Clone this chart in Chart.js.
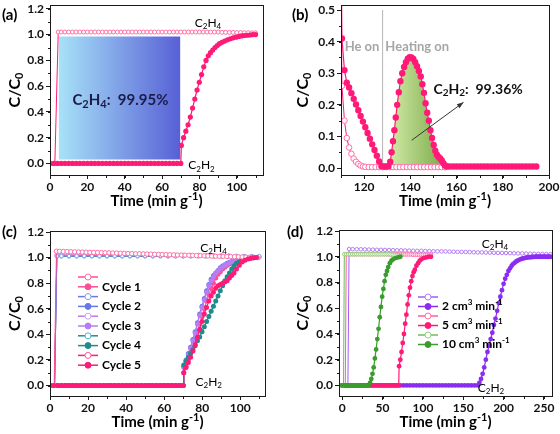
<!DOCTYPE html>
<html>
<head>
<meta charset="utf-8">
<script src="https://cdn.jsdelivr.net/npm/chart.js@4.4.1/dist/chart.umd.min.js"></script>
<style>
  body { margin: 0; background: #fff; }
  .panel { position: absolute; width: 280px; height: 217px; }
</style>
</head>
<body>
<div class="panel" style="left:0;top:0"><canvas id="panelA" width="280" height="217"></canvas></div>
<div class="panel" style="left:280px;top:0"><canvas id="panelB" width="280" height="217"></canvas></div>
<div class="panel" style="left:0;top:217px"><canvas id="panelC" width="280" height="217"></canvas></div>
<div class="panel" style="left:280px;top:217px"><canvas id="panelD" width="280" height="217"></canvas></div>
<script>
/* Breakthrough curves, desorption and cycling: four panels */

/* ---- tick labels ---- */
const aXTicks = [0, 20, 40, 60, 80, 100];
const bXTicks = [120, 140, 160, 180, 200];
const cXTicks = [0, 20, 40, 60, 80, 100];
const dXTicks = [0, 50, 100, 150, 200, 250];
const yTicks = [0, 0.2, 0.4, 0.6, 0.8, 1.0, 1.2];
const bYTicks = [0, 0.1, 0.2, 0.3, 0.4, 0.5];

/* ---- shared flat (zero) part of the C2H2 outlet, 0-70 min/g ---- */
const flatTime = [0, 2, 4, 6, 8, 10, 12, 14, 16, 18, 20, 22, 24, 26, 28, 30, 32, 34,
  36, 38, 40, 42, 44, 46, 48, 50, 52, 54, 56, 58, 60, 62, 64, 66, 68, 70];
const flatZero = [0, 0, 0, 0, 0, 0, 0, 0, 0, 0, 0, 0, 0, 0, 0, 0, 0, 0,
  0, 0, 0, 0, 0, 0, 0, 0, 0, 0, 0, 0, 0, 0, 0, 0, 0, 0];

/* ---- (a) ---- */
const aH4Time = [0, 2.6, 4.4, 6, 8, 10, 12, 14, 16, 18, 20, 22, 24, 26, 28, 30, 32, 34, 36, 38,
  40, 42, 44, 46, 48, 50, 52, 54, 56, 58, 60, 62, 64, 66, 68, 70, 72, 74, 76, 78, 80, 82,
  84, 86, 88, 90, 92, 94, 96, 98, 100, 102, 104, 106, 108, 110];
const aH4Val = [0, 0,
  1.02, 1.02, 1.02, 1.02, 1.02, 1.02, 1.02, 1.02, 1.02, 1.02, 1.02,
  1.02, 1.02, 1.02, 1.02, 1.02, 1.02, 1.02, 1.02, 1.02, 1.02, 1.02,
  1.02, 1.02, 1.02, 1.02, 1.02, 1.02, 1.02, 1.02, 1.02, 1.02, 1.02,
  1.02, 1.02, 1.02, 1.02, 1.02, 1.02, 1.02, 1.02, 1.02, 1.02, 1.02,
  1.018, 1.018, 1.017, 1.017, 1.016, 1.016, 1.015, 1.015, 1.014, 1.014];
const aRiseTime = [70.3, 71.5, 72.7, 73.9, 75.1, 76.3, 77.5, 78.7, 79.9, 81.1, 82.3, 83.5, 84.7,
  85.9, 87.1, 88.3, 89.5, 90.7, 92, 93.5, 95, 96.5, 98, 99.5, 101, 102.5, 104, 105.5, 107, 108.5, 110];
const aRiseVal = [0.14, 0.2, 0.25, 0.3, 0.36, 0.43, 0.5, 0.57, 0.63, 0.69, 0.75, 0.8, 0.835,
  0.86, 0.88, 0.9, 0.915, 0.93, 0.94, 0.95, 0.96, 0.968, 0.975, 0.98, 0.985, 0.99, 0.993, 0.995, 0.997, 1.0, 1.0];
const aBoxTime = [4.6, 69.8];
const aBoxTop = [0.985, 0.985];
const aBoxBase = 0.03;

/* ---- (b) desorption ---- */
const bOpenTime = [109.6, 110.4, 111.5, 112.5, 113.5, 114.5, 115.5, 116.5, 117.5, 118.5, 119.5,
  120.5, 122, 123.5, 125, 126.5, 128, 129.5, 131, 132.5, 134, 135.5, 137, 138.5, 140, 141.5,
  143, 144.5, 146, 147.5, 149, 150.5, 152, 153.5, 155];
const bOpenVal = [0.9, 0.26, 0.15, 0.095, 0.065, 0.045, 0.03, 0.02, 0.013, 0.008, 0.005,
  0.004, 0.003, 0.003, 0.003, 0.003, 0.003, 0.003, 0.003, 0.003, 0.003, 0.003, 0.003, 0.003,
  0.003, 0.003, 0.003, 0.003, 0.003, 0.003, 0.003, 0.003, 0.003, 0.003, 0.003];
const bFillTime = [109.6, 110.4, 111.5, 112.5, 113.5, 114.5, 115.5, 116.5, 117.5, 118.5,
  119.5, 120.5, 121.5, 122.5, 123.5, 124.5, 125.5, 126.5, 127.5, 128.5,
  129.5, 130.5, 131.3, 131.9, 132.5, 133.1, 133.7, 134.3, 135, 135.7,
  136.5, 137.3, 138.1, 138.9, 139.7, 140.5, 141.3, 142.1, 142.9, 143.7,
  144.5, 145.2, 145.9, 146.6, 147.3, 148, 148.7, 149.4, 150.1, 150.8,
  151.5, 152.2, 152.9, 153.6, 154.3, 155, 155.8, 157, 158.5, 160,
  161.5, 163, 164.5, 166, 167.5, 169, 170.5, 172, 173.5, 175,
  176.5, 178, 179.5, 181, 182.5, 184, 185.5, 187, 188.5, 190,
  191.5, 193, 194.5];
const bFillVal = [1.0, 0.41, 0.31, 0.27, 0.255, 0.237, 0.219, 0.201, 0.183, 0.165,
  0.147, 0.129, 0.111, 0.093, 0.075, 0.057, 0.039, 0.021, 0.006, 0.005,
  0.005, 0.006, 0.02, 0.05, 0.085, 0.12, 0.16, 0.2, 0.24, 0.275,
  0.3, 0.32, 0.335, 0.346, 0.351, 0.35, 0.345, 0.335, 0.322, 0.307,
  0.29, 0.265, 0.238, 0.205, 0.175, 0.15, 0.12, 0.095, 0.073, 0.055,
  0.042, 0.035, 0.03, 0.024, 0.015, 0.008, 0.005, 0.005, 0.005, 0.005,
  0.005, 0.005, 0.005, 0.005, 0.005, 0.005, 0.005, 0.005, 0.005, 0.005,
  0.005, 0.005, 0.005, 0.005, 0.005, 0.005, 0.005, 0.005, 0.005, 0.005,
  0.005, 0.005, 0.005];
const bPeakFrom = 131, bPeakTo = 155.5;   // shaded desorption peak
const bHeatingOn = 128;                   // switch He -> heating

/* ---- (c) five cycles ---- */
const cycleNames = ['Cycle 1', 'Cycle 2', 'Cycle 3', 'Cycle 4', 'Cycle 5'];
const cH4Time = [0, 2.2, 3.4, 5, 7, 9, 11, 13, 15, 17, 19, 21, 23, 25, 27, 29, 31, 33, 35, 37,
  39, 41, 43, 45, 47, 49, 51, 53, 55, 57, 59, 61, 63, 65, 67, 69, 71, 73, 75, 77, 79, 81,
  83, 85, 87, 89, 91, 93, 95, 97, 99, 101, 103, 105, 107, 109];
const c1H4 = [0, 0, 1.05,
  1.049, 1.048, 1.047, 1.046, 1.045, 1.044, 1.043, 1.042, 1.041, 1.04,
  1.04, 1.039, 1.038, 1.037, 1.036, 1.035, 1.034, 1.033, 1.032, 1.031,
  1.03, 1.03, 1.029, 1.028, 1.027, 1.026, 1.025, 1.024, 1.023, 1.022,
  1.021, 1.02, 1.02, 1.019, 1.018, 1.017, 1.016, 1.015, 1.014, 1.013,
  1.012, 1.011, 1.01, 1.01, 1.009, 1.008, 1.007, 1.006, 1.005, 1.004,
  1.003, 1.002, 1.0];
const cH4TimeB = [0, 2.4, 3.6, 6, 10, 14, 18, 22, 26, 30, 34, 38, 42, 46, 50, 54, 58, 62, 66,
  70, 74, 78, 82, 86, 90, 94, 98, 102, 106, 110];
const c2H4 = [0, 0, 1.012, 1.012, 1.012, 1.012, 1.012, 1.012, 1.012, 1.012, 1.012, 1.012, 1.012,
  1.012, 1.012, 1.012, 1.012, 1.012, 1.012, 1.012, 1.012, 1.012, 1.012, 1.012, 1.012, 1.012,
  1.012, 1.012, 1.012, 1.012];
const c3H4 = [0, 0, 1.018, 1.018, 1.018, 1.018, 1.018, 1.018, 1.018, 1.018, 1.018, 1.018, 1.018,
  1.018, 1.018, 1.018, 1.018, 1.018, 1.018, 1.018, 1.018, 1.018, 1.018, 1.018, 1.016, 1.014,
  1.012, 1.01, 1.008, 1.005];
const c4H4 = [0, 0, 1.01, 1.01, 1.01, 1.01, 1.01, 1.01, 1.01, 1.01, 1.01, 1.01, 1.01,
  1.01, 1.01, 1.01, 1.01, 1.01, 1.01, 1.01, 1.01, 1.01, 1.01, 1.01, 1.01, 1.01,
  1.01, 1.008, 1.005, 1.003];
const c5H4 = [0, 0, 1.02, 1.02, 1.02, 1.02, 1.02, 1.02, 1.02, 1.02, 1.02, 1.02, 1.02,
  1.02, 1.02, 1.02, 1.02, 1.02, 1.02, 1.02, 1.02, 1.02, 1.02, 1.018, 1.016, 1.014,
  1.012, 1.01, 1.006, 1.003];
const cRiseTime = [70.3, 71.5, 72.7, 73.9, 75.1, 76.3, 77.5, 78.7, 79.9, 81.1, 82.3, 83.5, 84.7,
  85.9, 87.1, 88.3, 89.5, 90.7, 91.9, 93.1, 94.3, 95.5, 96.7, 98, 99.5, 101, 102.5, 104, 105.5, 107, 108.5];
const c1H2 = [0.1, 0.15, 0.2, 0.25, 0.3, 0.36, 0.42, 0.48, 0.54, 0.6, 0.66, 0.71, 0.76,
  0.8, 0.84, 0.87, 0.89, 0.91, 0.925, 0.94, 0.95, 0.958, 0.965, 0.972, 0.978, 0.984, 0.989, 0.993, 0.996, 0.998, 1.0];
const c2H2 = [0.15, 0.2, 0.25, 0.3, 0.36, 0.42, 0.49, 0.56, 0.62, 0.68, 0.74, 0.79, 0.83,
  0.86, 0.88, 0.9, 0.92, 0.935, 0.945, 0.955, 0.963, 0.97, 0.975, 0.98, 0.985, 0.989, 0.992, 0.995, 0.997, 0.999, 1.0];
const c3H2 = [0.14, 0.19, 0.24, 0.29, 0.35, 0.41, 0.48, 0.55, 0.61, 0.67, 0.73, 0.78, 0.82,
  0.85, 0.875, 0.895, 0.912, 0.928, 0.94, 0.95, 0.96, 0.967, 0.973, 0.979, 0.984, 0.988, 0.992, 0.995, 0.997, 0.999, 1.0];
const c4H2 = [0.16, 0.19, 0.22, 0.25, 0.28, 0.31, 0.35, 0.38, 0.42, 0.46, 0.5, 0.54, 0.58,
  0.62, 0.66, 0.7, 0.74, 0.78, 0.82, 0.85, 0.88, 0.91, 0.935, 0.955, 0.97, 0.98, 0.988, 0.993, 0.996, 0.998, 1.0];
const c5H2 = [0.1, 0.14, 0.18, 0.22, 0.27, 0.32, 0.38, 0.44, 0.5, 0.56, 0.61, 0.66, 0.7,
  0.73, 0.76, 0.78, 0.79, 0.8, 0.81, 0.82, 0.84, 0.86, 0.88, 0.91, 0.94, 0.965, 0.98, 0.99, 0.995, 0.998, 1.0];

/* ---- (d) flow rates ---- */
const flowNames = ['2 cm^{3} min^{-1}', '5 cm^{3} min^{-1}', '10 cm^{3} min^{-1}'];
const dPurpleH4Time = [0, 7, 8.5, 13, 18, 23, 28, 33, 38, 43, 48, 53, 58, 63, 68, 73, 78, 83, 88,
  93, 98, 103, 108, 113, 118, 123, 128, 133, 138, 143, 148, 153, 158, 163, 168, 173, 178, 183,
  188, 193, 198, 203, 208, 213, 218, 223, 228, 233, 238, 243, 248, 253, 258];
const dPurpleH4Val = [0, 0, 1.06,
  1.059, 1.058, 1.058, 1.057, 1.056, 1.055, 1.054, 1.054, 1.053, 1.052,
  1.051, 1.05, 1.05, 1.049, 1.048, 1.047, 1.046, 1.046, 1.045, 1.044,
  1.043, 1.042, 1.042, 1.041, 1.04, 1.039, 1.038, 1.038, 1.037, 1.036,
  1.035, 1.034, 1.034, 1.033, 1.032, 1.031, 1.03, 1.03, 1.029, 1.028,
  1.027, 1.026, 1.026, 1.025, 1.024, 1.023, 1.022, 1.022, 1.021, 1.02];
const dPurpleFlatTime = [0, 4, 8, 12, 16, 20, 24, 28, 32, 36, 40, 44, 48, 52, 56, 60, 64, 68, 72,
  76, 80, 84, 88, 92, 96, 100, 104, 108, 112, 116, 120, 124, 128, 132, 136, 140, 144, 148, 152,
  156, 160, 164, 168];
const dPurpleFlatVal = [0, 0, 0, 0, 0, 0, 0, 0, 0, 0, 0, 0, 0, 0, 0, 0, 0, 0, 0, 0, 0, 0,
  0, 0, 0, 0, 0, 0, 0, 0, 0, 0, 0, 0, 0, 0, 0, 0, 0, 0, 0, 0, 0];
const dPurpleRiseTime = [170, 172, 174, 176, 178, 180, 182, 184, 186, 188, 190, 192, 194, 196, 198,
  200, 202, 204, 206, 208, 210, 212, 214, 216, 218, 220, 222, 224, 226, 228, 230, 232, 234, 236,
  238, 240, 242, 244, 246, 248, 250, 252, 254, 256, 258];
const dPurpleRiseVal = [0.02, 0.05, 0.09, 0.14, 0.2, 0.26, 0.31, 0.36, 0.41, 0.47,
  0.52, 0.58, 0.64, 0.69, 0.74, 0.79, 0.83, 0.86, 0.89, 0.91,
  0.93, 0.945, 0.955, 0.965, 0.972, 0.978, 0.983, 0.987, 0.99, 0.993,
  0.995, 0.996, 0.997, 0.998, 0.999, 1.0, 1.0, 1.0, 1.0, 1.0, 1.0, 1.0, 1.0, 1.0, 1.0];
const dPinkH4Time = [0, 3.8, 5, 7.5, 10, 12.5, 15, 17.5, 20, 22.5, 25, 27.5, 30, 32.5, 35, 37.5,
  40, 42.5, 45, 47.5, 50, 52.5, 55, 57.5, 60, 62.5, 65, 67.5, 70, 72.5, 75, 77.5, 80, 82.5, 85,
  87.5, 90, 92.5, 95, 97.5, 100, 102.5, 105, 107.5, 110];
const dPinkH4Val = [0, 0, 1.02,
  1.02, 1.02, 1.02, 1.02, 1.02, 1.02, 1.02, 1.02, 1.02, 1.02, 1.02,
  1.02, 1.02, 1.02, 1.02, 1.02, 1.02, 1.02, 1.02, 1.02, 1.02,
  1.018, 1.018, 1.018, 1.018, 1.018, 1.018, 1.018, 1.018, 1.018, 1.018, 1.018,
  1.016, 1.016, 1.016, 1.016, 1.016, 1.016, 1.016, 1.016, 1.016, 1.016];
const dPinkFlatTime = [0, 2.5, 5, 7.5, 10, 12.5, 15, 17.5, 20, 22.5, 25, 27.5, 30, 32.5, 35, 37.5,
  40, 42.5, 45, 47.5, 50, 52.5, 55, 57.5, 60, 62.5, 65, 67.5, 70];
const dPinkFlatVal = [0, 0, 0, 0, 0, 0, 0, 0, 0, 0, 0, 0, 0, 0, 0, 0, 0, 0, 0, 0, 0, 0, 0, 0, 0, 0, 0, 0, 0];
const dPinkRiseTime = [70.5, 72, 73.5, 75, 76.5, 78, 79.5, 81, 82.5, 84, 85.5, 87, 88.5, 90, 92,
  94, 96, 98, 101, 104, 107, 110];
const dPinkRiseVal = [0.15, 0.2, 0.26, 0.33, 0.4, 0.48, 0.55, 0.63, 0.7, 0.76, 0.81, 0.85, 0.88,
  0.9, 0.93, 0.95, 0.97, 0.98, 0.99, 0.995, 1.0, 1.0];
const dGreenH4Time = [0, 1.6, 2.6, 5, 7.5, 10, 12.5, 15, 17.5, 20, 22.5, 25, 27.5, 30, 32.5, 35,
  37.5, 40, 42.5, 45, 47.5, 50, 52.5, 55, 57.5, 60, 62.5, 65, 67.5, 70, 72.5];
const dGreenH4Val = [0, 0, 1.02, 1.02, 1.02, 1.02, 1.02, 1.02, 1.02, 1.02, 1.02, 1.02, 1.02,
  1.02, 1.02, 1.02, 1.02, 1.02, 1.02, 1.02, 1.02, 1.02, 1.02, 1.02, 1.02, 1.018, 1.016, 1.014,
  1.012, 1.01, 1.008];
const dGreenFlatTime = [0, 2.5, 5, 7.5, 10, 12.5, 15, 17.5, 20, 22.5, 25, 27.5, 30, 32.5];
const dGreenFlatVal = [0, 0, 0, 0, 0, 0, 0, 0, 0, 0, 0, 0, 0, 0];
const dGreenRiseTime = [34.5, 36, 37.5, 39, 40.5, 42, 43.5, 45, 46.5, 48, 49.5, 51, 52.5, 54,
  55.5, 57, 59, 61, 63, 66, 69, 72];
const dGreenRiseVal = [0.02, 0.05, 0.09, 0.14, 0.21, 0.28, 0.36, 0.44, 0.53, 0.61, 0.69, 0.75,
  0.81, 0.86, 0.89, 0.92, 0.95, 0.97, 0.98, 0.99, 0.995, 1.0];

const FONT = 'Lato';

function pts(xs, ys) {
  return xs.map((x, i) => ({ x: x, y: ys[i] }));
}

/* open rings = C2H4, filled dots = C2H2 */
function ringSeries(xs, ys, line, ring, r, order, label) {
  return { data: pts(xs, ys), borderColor: line, borderWidth: 1, pointRadius: r,
    pointBackgroundColor: '#fff', pointBorderColor: ring, pointBorderWidth: 1,
    order: order, key: label !== undefined, label: label || '' };
}
function dotSeries(xs, ys, color, r, order, label) {
  return { data: pts(xs, ys), borderColor: color, borderWidth: 1.2, pointRadius: r,
    pointBackgroundColor: color, pointBorderColor: color, pointBorderWidth: 0,
    order: order, key: label !== undefined, label: label || '' };
}

function hGradient(chart, xs, from, to, fallback) {
  const area = chart.chartArea;
  if (!area) return fallback;
  const sx = chart.scales.x;
  const g = chart.ctx.createLinearGradient(sx.getPixelForValue(xs[0]), 0, sx.getPixelForValue(xs[xs.length - 1]), 0);
  g.addColorStop(0, from);
  g.addColorStop(1, to);
  return g;
}

/* text with _{sub} and ^{sup} parts */
function richParts(str) {
  const parts = [];
  const re = /([_^])\{([^}]*)\}/g;
  let last = 0, m;
  while ((m = re.exec(str))) {
    if (m.index > last) parts.push({ t: str.slice(last, m.index), k: 0 });
    parts.push({ t: m[2], k: m[1] === '_' ? 1 : -1 });
    last = re.lastIndex;
  }
  if (last < str.length) parts.push({ t: str.slice(last), k: 0 });
  return parts;
}
function drawRich(ctx, str, x, y, o) {
  const size = o.size || 12;
  const weight = o.weight || 'bold';
  const fontFor = k => weight + ' ' + (k ? Math.round(size * 0.7) : size) + 'px ' + FONT;
  const parts = richParts(str);
  let total = 0;
  parts.forEach(p => { ctx.font = fontFor(p.k); p.w = ctx.measureText(p.t).width; total += p.w; });
  ctx.save();
  ctx.translate(x, y);
  if (o.rotate) ctx.rotate(o.rotate);
  let cx = o.align === 'center' ? -total / 2 : o.align === 'right' ? -total : 0;
  ctx.fillStyle = o.color || '#000';
  ctx.textBaseline = 'middle';
  ctx.textAlign = 'left';
  parts.forEach(p => {
    ctx.font = fontFor(p.k);
    ctx.fillText(p.t, cx, p.k > 0 ? size * 0.3 : p.k < 0 ? -size * 0.33 : 0);
    cx += p.w;
  });
  ctx.restore();
}

/* frame, minor ticks, titles, notes and the legend */
const framePlugin = {
  id: 'frame',
  afterDraw(chart, args, o) {
    const ctx = chart.ctx, area = chart.chartArea;
    const sx = chart.scales.x, sy = chart.scales.y;
    ctx.save();
    ctx.strokeStyle = '#1a1a1a';
    ctx.lineWidth = 1;
    ctx.strokeRect(area.left + 0.5, area.top + 0.5, area.right - area.left, area.bottom - area.top);
    ctx.beginPath();
    for (let i = Math.ceil(sx.min / o.xMinor); i * o.xMinor <= sx.max; i++) {
      const px = Math.round(sx.getPixelForValue(i * o.xMinor)) + 0.5;
      ctx.moveTo(px, area.bottom + 0.5);
      ctx.lineTo(px, area.bottom + 3);
    }
    for (let i = Math.ceil(sy.min / o.yMinor); i * o.yMinor <= sy.max; i++) {
      const py = Math.round(sy.getPixelForValue(i * o.yMinor)) + 0.5;
      ctx.moveTo(area.left + 0.5, py);
      ctx.lineTo(area.left - 2, py);
    }
    ctx.stroke();

    // axis titles and panel letter
    drawRich(ctx, 'Time (min g^{-1})', (area.left + area.right) / 2, area.bottom + 26, { size: 15, align: 'center' });
    drawRich(ctx, 'C/C_{0}', area.left - o.yTitleGap, (area.top + area.bottom) / 2, { size: 16, align: 'center', rotate: -Math.PI / 2 });
    drawRich(ctx, o.letter, o.letterX, 15, { size: 15 });

    // notes placed in data units
    (o.notes || []).forEach(n => {
      drawRich(ctx, n.text, sx.getPixelForValue(n.x), sy.getPixelForValue(n.y), n);
    });
    (o.arrows || []).forEach(a => {
      const x0 = sx.getPixelForValue(a[0]), y0 = sy.getPixelForValue(a[1]);
      const x1 = sx.getPixelForValue(a[2]), y1 = sy.getPixelForValue(a[3]);
      const ang = Math.atan2(y1 - y0, x1 - x0);
      ctx.strokeStyle = '#333';
      ctx.fillStyle = '#333';
      ctx.lineWidth = 1;
      ctx.beginPath();
      ctx.moveTo(x0, y0);
      ctx.lineTo(x1, y1);
      ctx.stroke();
      ctx.beginPath();
      ctx.moveTo(x1, y1);
      ctx.lineTo(x1 - 7 * Math.cos(ang - 0.35), y1 - 7 * Math.sin(ang - 0.35));
      ctx.lineTo(x1 - 7 * Math.cos(ang + 0.35), y1 - 7 * Math.sin(ang + 0.35));
      ctx.closePath();
      ctx.fill();
    });

    // legend: line + marker + name
    if (o.keys) {
      let y = o.keys.y;
      chart.data.datasets.forEach(ds => {
        if (!ds.key) return;
        const x = o.keys.x, len = o.keys.len;
        ctx.strokeStyle = ds.borderColor;
        ctx.lineWidth = 1.5;
        ctx.beginPath();
        ctx.moveTo(x, y);
        ctx.lineTo(x + len, y);
        ctx.stroke();
        ctx.beginPath();
        ctx.arc(x + len / 2, y, 3, 0, Math.PI * 2);
        ctx.fillStyle = ds.pointBackgroundColor;
        ctx.fill();
        ctx.lineWidth = 1;
        ctx.strokeStyle = ds.pointBorderColor;
        ctx.stroke();
        if (ds.label) drawRich(ctx, ds.label, x + len + 4, y, { size: o.keys.size });
        y += o.keys.step;
      });
    }
    ctx.restore();
  }
};

function axisFont() {
  return { family: FONT, weight: 'bold', size: 12 };
}

function makePanel(id, datasets, p) {
  return new Chart(document.getElementById(id), {
    type: 'line',
    data: { datasets: datasets },
    plugins: [framePlugin],
    options: {
      responsive: false,
      animation: false,
      events: [],
      elements: { line: { tension: 0 } },
      layout: { padding: { top: p.top, right: p.right, left: 0, bottom: 0 } },
      plugins: {
        legend: { display: false },
        tooltip: { enabled: false },
        frame: p.frame
      },
      scales: {
        x: {
          type: 'linear', min: p.xMin, max: p.xMax,
          afterFit: s => { s.height = p.bottom; s.paddingLeft = 0; s.paddingRight = 0; },
          afterBuildTicks: s => { s.ticks = p.xTicks.map(v => ({ value: v })); },
          grid: { drawOnChartArea: false, drawTicks: true, tickLength: 4, tickColor: '#1a1a1a' },
          border: { display: false },
          ticks: { font: axisFont(), color: '#111', padding: 1, autoSkip: false, maxRotation: 0,
            callback: v => String(v) }
        },
        y: {
          type: 'linear', min: p.yMin, max: p.yMax,
          afterFit: s => { s.width = p.left; s.paddingTop = 0; s.paddingBottom = 0; },
          afterBuildTicks: s => { s.ticks = p.yTicks.map(v => ({ value: v })); },
          grid: { drawOnChartArea: false, drawTicks: true, tickLength: 4, tickColor: '#1a1a1a' },
          border: { display: false },
          ticks: { font: axisFont(), color: '#111', padding: 2, autoSkip: false,
            callback: v => v.toFixed(1) }
        }
      }
    }
  });
}

const PINK = '#ff1a78';
const PINK_RING = '#ff6ea6';
const noteSmall = { size: 12, weight: 'normal' };

/* (a) */
makePanel('panelA', [
  { data: pts(aBoxTime, aBoxTop), fill: { value: aBoxBase }, borderWidth: 0, pointRadius: 0,
    backgroundColor: c => hGradient(c.chart, aBoxTime, '#a8e2f8', '#5760d6', '#80a0e8'), order: 9 },
  ringSeries(aH4Time, aH4Val, PINK, PINK_RING, 2, 2),
  dotSeries(flatTime.concat(aRiseTime), flatZero.concat(aRiseVal), PINK, 2.6, 1)
], {
  top: 3, right: 17, left: 50, bottom: 42,
  xMin: 0, xMax: 114, yMin: -0.09, yMax: 1.23, xTicks: aXTicks, yTicks: yTicks,
  frame: {
    xMinor: 10, yMinor: 0.1, yTitleGap: 35, letter: '(a)', letterX: 2,
    notes: [
      Object.assign({ text: 'C_{2}H_{4}', x: 77.5, y: 1.09 }, noteSmall),
      Object.assign({ text: 'C_{2}H_{2}', x: 74, y: -0.015 }, noteSmall),
      { text: 'C_{2}H_{4}:  99.95%', x: 12, y: 0.49, size: 15, color: '#1c1c48' }
    ]
  }
});

/* (b) */
makePanel('panelB', [
  { data: [{ x: bHeatingOn, y: 0 }, { x: bHeatingOn, y: 0.5 }], borderColor: '#a0a0a0', borderWidth: 0.8,
    pointRadius: 0, order: 10 },
  { data: pts(bFillTime, bFillVal).filter(q => q.x >= bPeakFrom && q.x <= bPeakTo),
    fill: { value: 0.005 }, borderWidth: 0, pointRadius: 0,
    backgroundColor: c => hGradient(c.chart, [bPeakFrom, bPeakTo], '#d2eba8', '#78a845', '#a0cc70'), order: 9 },
  ringSeries(bOpenTime, bOpenVal, PINK, PINK_RING, 2.8, 2),
  dotSeries(bFillTime, bFillVal, PINK, 3.2, 1)
], {
  top: 2, right: 11, left: 61, bottom: 42,
  xMin: 110, xMax: 200, yMin: -0.022, yMax: 0.516, xTicks: bXTicks, yTicks: bYTicks,
  frame: {
    xMinor: 10, yMinor: 0.05, yTitleGap: 38, letter: '(b)', letterX: 12,
    notes: [
      { text: 'He on', x: 126.6, y: 0.385, size: 13, color: '#a6a6a6', align: 'right' },
      { text: 'Heating on', x: 129.2, y: 0.385, size: 13, color: '#a6a6a6' },
      { text: 'C_{2}H_{2}:  99.36%', x: 150, y: 0.25, size: 14, color: '#111' }
    ],
    arrows: [[140.6, 0.088, 163, 0.208]]
  }
});

/* (c) */
const cycleColors = ['#ff4d94', '#6579e8', '#b87cf4', '#1f8c8c', '#ff1a78'];
const cycleRings = ['#ff6ea6', '#8b9cf0', '#cfa0fa', '#4fb6d0', '#ff5c9c'];
const cH4Sets = [[cH4Time, c1H4], [cH4TimeB, c2H4], [cH4TimeB, c3H4], [cH4TimeB, c4H4], [cH4TimeB, c5H4]];
const cH2Sets = [c1H2, c2H2, c3H2, c4H2, c5H2];
const cDatasets = [];
cycleNames.forEach((name, i) => {
  cDatasets.push(ringSeries(cH4Sets[i][0], cH4Sets[i][1], cycleColors[i], cycleRings[i], i === 0 ? 2.2 : 1.8, i === 0 ? 1 : 6 + i, ''));
  cDatasets.push(dotSeries(flatTime.concat(cRiseTime), flatZero.concat(cH2Sets[i]), cycleColors[i], 2.5, i === 4 ? 0 : 5 - i, name));
});
makePanel('panelC', cDatasets, {
  top: 14, right: 15, left: 50, bottom: 38,
  xMin: 0, xMax: 113, yMin: -0.082, yMax: 1.208, xTicks: cXTicks, yTicks: yTicks,
  frame: {
    xMinor: 10, yMinor: 0.1, yTitleGap: 35, letter: '(c)', letterX: 2,
    notes: [
      Object.assign({ text: 'C_{2}H_{4}', x: 79, y: 1.075 }, noteSmall),
      Object.assign({ text: 'C_{2}H_{2}', x: 76.5, y: 0.03 }, noteSmall)
    ],
    keys: { x: 78, y: 60, step: 9.8, len: 20, size: 12 }
  }
});

/* (d) */
const PURPLE = '#8a2cf2', PURPLE_RING = '#b57cf7';
const GREEN = '#3a9c2c', GREEN_RING = '#8fd07a';
makePanel('panelD', [
  ringSeries(dPurpleH4Time, dPurpleH4Val, '#a35cf5', PURPLE_RING, 1.8, 5, ''),
  dotSeries(dPurpleFlatTime.concat(dPurpleRiseTime), dPurpleFlatVal.concat(dPurpleRiseVal), PURPLE, 2.4, 4, flowNames[0]),
  ringSeries(dPinkH4Time, dPinkH4Val, '#ff5c9c', PINK_RING, 1.8, 3, ''),
  dotSeries(dPinkFlatTime.concat(dPinkRiseTime), dPinkFlatVal.concat(dPinkRiseVal), PINK, 2.4, 2, flowNames[1]),
  ringSeries(dGreenH4Time, dGreenH4Val, '#6cbc5a', GREEN_RING, 1.8, 1, ''),
  dotSeries(dGreenFlatTime.concat(dGreenRiseTime), dGreenFlatVal.concat(dGreenRiseVal), GREEN, 2.4, 0, flowNames[2])
], {
  top: 13, right: 8, left: 59, bottom: 38,
  xMin: -4, xMax: 260, yMin: -0.082, yMax: 1.208, xTicks: dXTicks, yTicks: yTicks,
  frame: {
    xMinor: 25, yMinor: 0.1, yTitleGap: 36, letter: '(d)', letterX: 7,
    notes: [
      Object.assign({ text: 'C_{2}H_{4}', x: 173, y: 1.1 }, noteSmall),
      Object.assign({ text: 'C_{2}H_{2}', x: 168, y: -0.02 }, noteSmall)
    ],
    keys: { x: 138, y: 80, step: 9.5, len: 20, size: 12 }
  }
});
</script>
</body>
</html>
